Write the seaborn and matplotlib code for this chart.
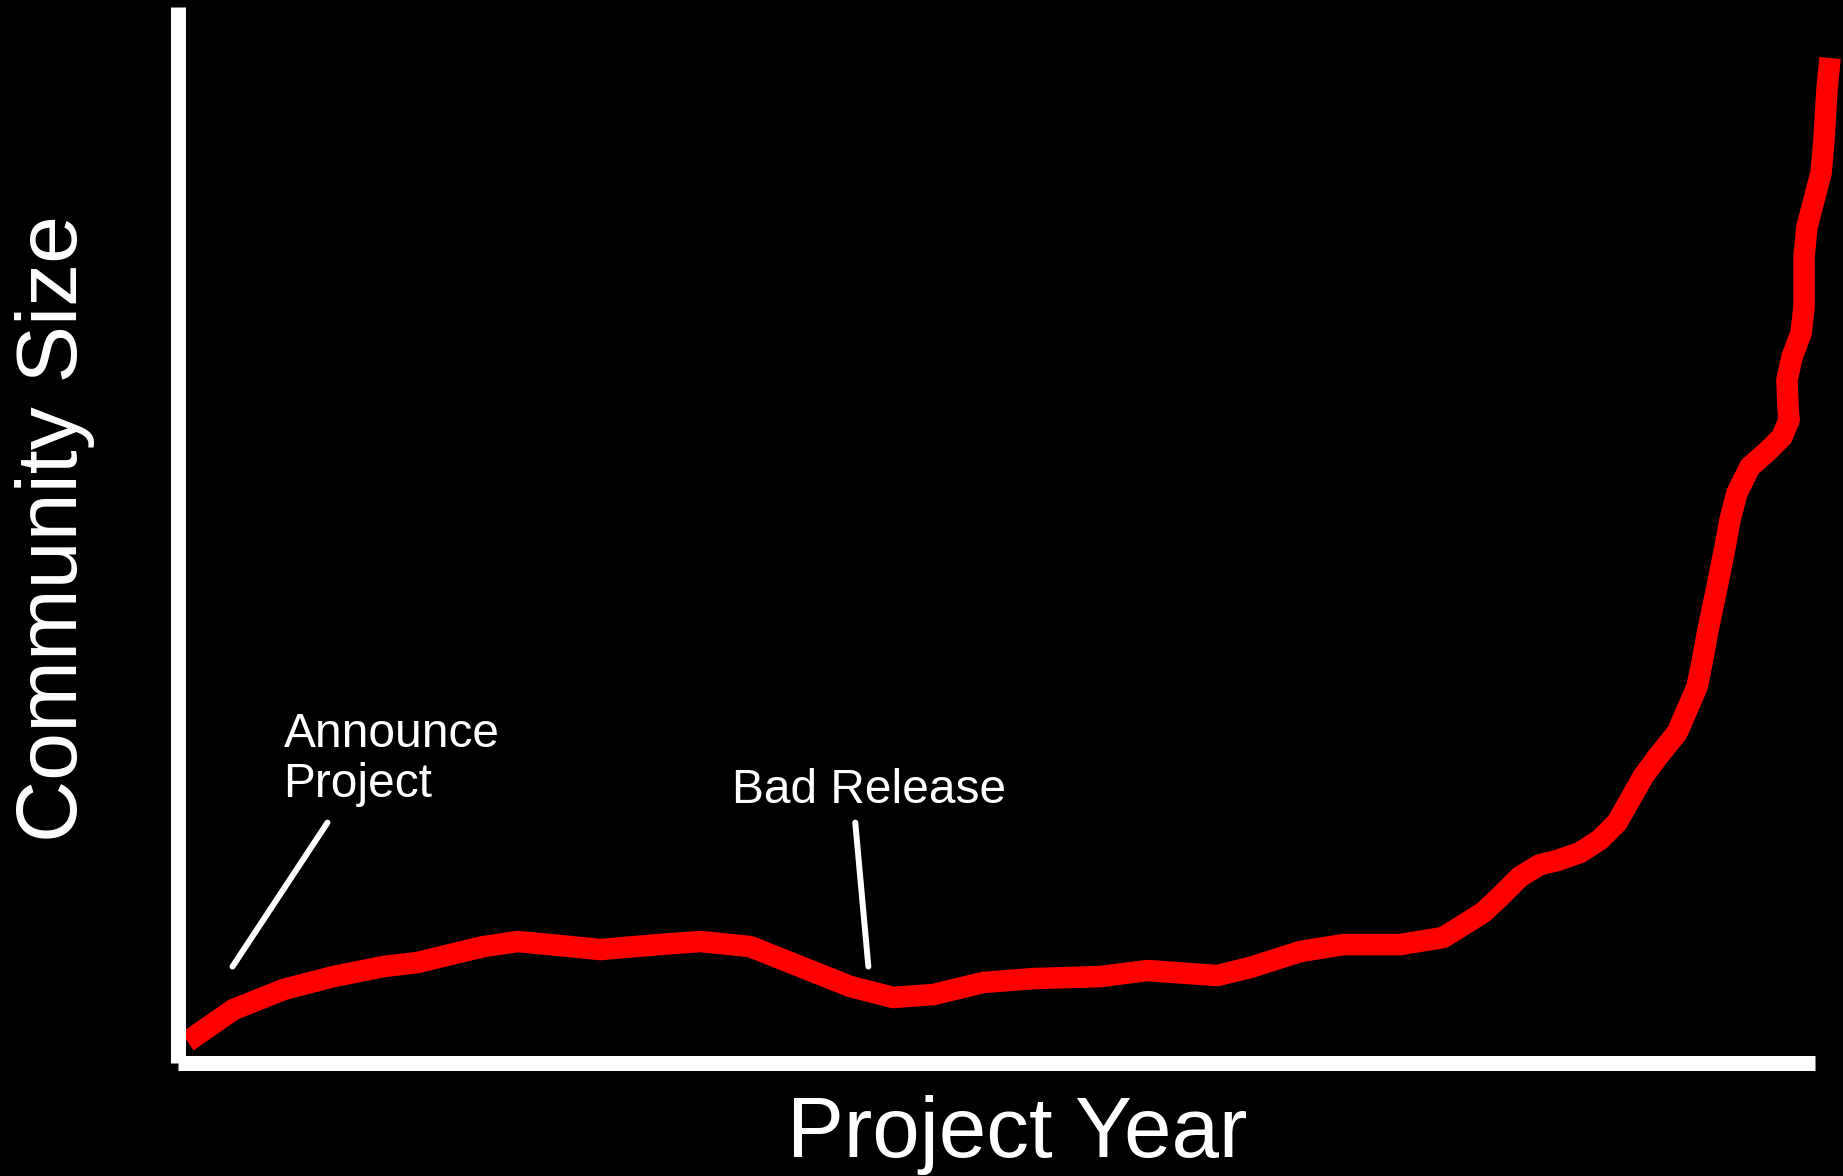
import matplotlib
matplotlib.use("Agg")
import matplotlib.pyplot as plt
import seaborn as sns
import pandas as pd

# ---- data ----
project_year = [0.061, 0.342, 0.647, 0.952, 1.258, 1.465, 1.667, 1.868, 2.076, 2.277,
                2.582, 2.937, 3.193, 3.498, 3.803, 4.109, 4.371, 4.615, 4.921, 5.226,
                5.635, 5.922, 6.349, 6.551, 6.856, 7.118, 7.466, 7.729, 7.973, 8.077,
                8.199, 8.321, 8.425, 8.565, 8.687, 8.791, 8.871, 8.950, 9.035, 9.158,
                9.219, 9.280, 9.310, 9.347, 9.402, 9.451, 9.481, 9.524, 9.603, 9.707,
                9.799, 9.842, 9.835, 9.829, 9.860, 9.915, 9.933, 9.933, 9.951, 9.994,
                10.037, 10.055, 10.073, 10.092]
community_size = [1.99, 5.02, 6.91, 8.14, 9.09, 9.47, 10.23, 10.98, 11.46, 11.17,
                  10.70, 11.17, 11.46, 10.98, 9.09, 7.20, 6.16, 6.44, 7.58, 7.95,
                  8.14, 8.71, 8.24, 9.00, 10.51, 11.17, 11.17, 11.84, 14.20, 15.72,
                  17.61, 18.75, 19.13, 19.89, 21.12, 22.73, 24.91, 27.08, 28.88, 31.25,
                  33.43, 35.61, 37.88, 41.00, 45.08, 48.86, 51.42, 53.98, 56.44, 57.86,
                  59.28, 60.89, 62.12, 64.68, 66.86, 69.13, 71.59, 76.33, 79.17, 81.72,
                  84.28, 87.41, 92.14, 95.17]

annotation_texts = ["Announce\nProject", "Bad Release"]
annotation_text_xy = [(0.647, 25.19), (3.388, 24.62)]
annotation_line_start = [(0.916, 22.73), (4.139, 22.73)]
annotation_line_end = [(0.336, 9.09), (4.219, 9.09)]

x_label = "Project Year"
y_label = "Community Size"

df = pd.DataFrame({"year": project_year, "size": community_size})

# ---- style ----
sns.set_theme(style="white")
plt.rcParams["font.family"] = ["Liberation Sans", "DejaVu Sans"]
plt.rcParams["figure.facecolor"] = "black"
plt.rcParams["axes.facecolor"] = "black"

fig = plt.figure(figsize=(18.43, 11.76), dpi=100)
W, H = 1843, 1176
left, right, top, bottom = 177.5, 1815, 7, 1062.5
ax = fig.add_axes([left / W, (H - bottom) / H, (right - left) / W, (bottom - top) / H])
ax.set_facecolor("black")

sns.lineplot(data=df, x="year", y="size", sort=False, estimator=None,
             color="#ff0000", linewidth=15.5, ax=ax, clip_on=False,
             solid_joinstyle="round", solid_capstyle="butt")

ax.set_xlim(0, 10)
ax.set_ylim(0, 100)
ax.set_xticks([])
ax.set_yticks([])

for s in ["top", "right"]:
    ax.spines[s].set_visible(False)
for s in ["left", "bottom"]:
    ax.spines[s].set_visible(True)
    ax.spines[s].set_color("white")
    ax.spines[s].set_linewidth(10.8)
    ax.spines[s].set_capstyle("butt")

# annotations
for txt, (tx, ty), (x0, y0), (x1, y1) in zip(annotation_texts, annotation_text_xy,
                                             annotation_line_start, annotation_line_end):
    ax.annotate("", xy=(x1, y1), xytext=(x0, y0),
                arrowprops=dict(arrowstyle="-", color="white", lw=4.3,
                                shrinkA=0, shrinkB=0))
    ax.text(tx, ty, txt, color="white", fontsize=34.5, ha="left", va="baseline",
            linespacing=1.12)

ax.set_xlabel(x_label, color="white", fontsize=61.5)
ax.set_ylabel(y_label, color="white", fontsize=62)
ax.xaxis.set_label_coords((1017 - left) / (right - left), (bottom - 1095) / (bottom - top))
ax.yaxis.set_label_coords((95 - left) / (right - left), (bottom - 528) / (bottom - top))

fig.savefig("out.png", dpi=100, facecolor="black")
